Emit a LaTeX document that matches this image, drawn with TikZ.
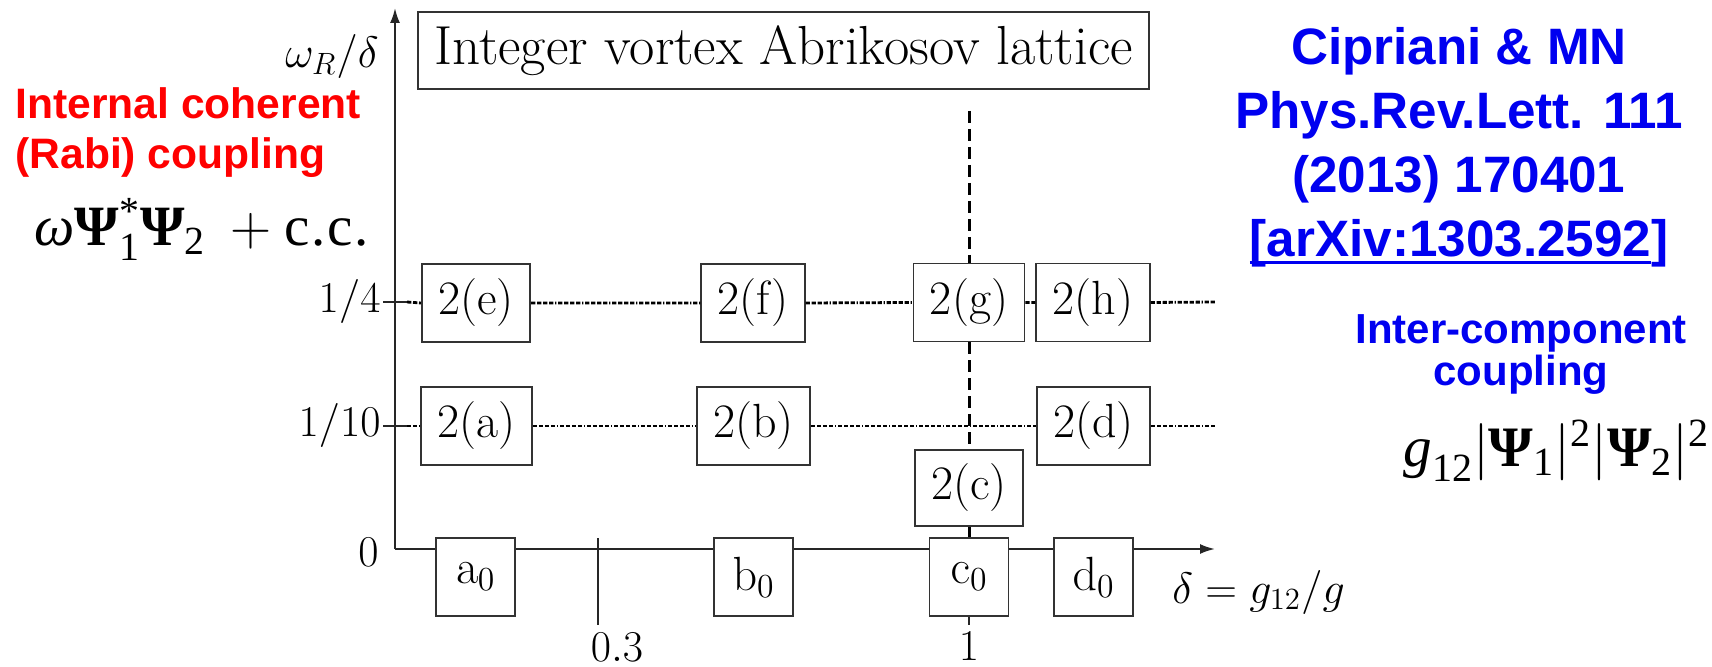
\RequirePackage{fix-cm}
\documentclass[tikz,border=0pt]{standalone}
\usepackage{amsmath,amssymb}
\usepackage[no-math]{fontspec}
\usepackage{xcolor}
\usepackage{tikz}
\usetikzlibrary{arrows.meta,positioning}
\newfontfamily\arialbold[BoldFont={Liberation Sans Bold}]{Liberation Sans}
\newfontfamily\timesfont{Liberation Serif}
\definecolor{rabired}{RGB}{255,0,0}
\definecolor{refblue}{RGB}{0,0,240}
\newcommand{\figfont}{\fontsize{22}{26}\selectfont}
\newcommand{\cellfont}{\fontsize{24}{28}\selectfont}
\newcommand{\linkline}[1]{\setbox0\hbox{#1}\rlap{\rule[-3.9pt]{\wd0}{1.5pt}}\box0}
% Times-like symbols of the coupling terms
\newcommand{\tPsi}{\text{\timesfont\bfseries Ψ}}
\newcommand{\tom}{\text{\timesfont\itshape ω}}
\newcommand{\tg}{\text{\timesfont\itshape g}}
\newcommand{\tnum}[1]{\text{\timesfont #1}}
\tikzset{
  cell/.style={rectangle, draw=black!80, line width=0.9pt, inner xsep=8.2pt, inner ysep=0pt,
               minimum height=39pt, font=\cellfont},
  base cell/.style={cell, minimum width=39.5pt},
  axis/.style={line width=1pt, black!85},
  guide/.style={line width=1.4pt, dash pattern=on 2.2pt off 0.8pt on 2.2pt off 0.8pt on 2.2pt off 0.8pt on 2.2pt off 0.8pt on 0.7pt off 0.8pt},
  vdash/.style={line width=1.5pt, dash pattern=on 6pt off 3pt},
  lbl/.style={inner sep=0pt, font=\figfont},
}

\begin{document}
\begin{tikzpicture}[x=0.5pt, y=-0.5pt]
        \useasboundingbox (0,0) rectangle (1712,667);

        % Title
        \node[draw=black!80, line width=0.9pt, minimum width=365.5pt, minimum height=38.5pt,
              font=\fontsize{27.5}{32}\selectfont] (title) at (783.5,50.5) {Integer vortex Abrikosov lattice};

        % Axes
        \coordinate (O)    at (395,549);
        \coordinate (ytop) at (395,8);
        \coordinate (xtip) at (1215,549);
        \draw[axis, -{Latex[length=7.5pt,width=5pt]}] (O) -- (ytop);
        \node[lbl, anchor=base east] (ylabel) at (379,68) {$\omega_R/\delta$};
        \node[lbl, anchor=base west] (xlabel) at (1172,603) {$\delta=g_{12}/g$};
        \node[lbl, anchor=east] (l0) at (379,552) {$0$};

        % Cells at 1/4
        \node[cell] (e) at (476,303) {2(e)};
        \node[cell] (f) at (753,303) {2(f)};
        \node[cell] (g) at (969,302.5) {2(g)};
        \node[cell] (h) at (1093,302.5) {2(h)};

        % Cells at 1/10
        \node[cell] (a) at (476.5,426) {2(a)};
        \node[cell] (b) at (753.5,426) {2(b)};
        \node[cell] (d) at (1093.5,426) {2(d)};
        \node[cell, minimum height=38pt] (c) at (969,488) {2(c)};

        % Cells on the axis
        \node[base cell] (a0) at (475.5,577) {$\mathrm{a}_0$};
        \node[base cell] (b0) at (753.5,577) {$\mathrm{b}_0$};
        \node[base cell] (c0) at (969,577) {$\mathrm{c}_0$};
        \node[base cell] (d0) at (1093.5,577) {$\mathrm{d}_0$};

        % Horizontal axis
        \draw[axis] (O) -- (O -| a0.west) (O -| a0.east) -- (O -| b0.west)
                    (O -| b0.east) -- (O -| c0.west) (O -| c0.east) -- (O -| d0.west);
        \draw[axis, -{Latex[length=7.5pt,width=5pt]}] (O -| d0.east) -- (xtip);

        % Ticks on the vertical axis
        \coordinate (q4l)  at (383,302);
        \coordinate (q4r)  at (407,302);
        \coordinate (q4e)  at (1216,302);
        \coordinate (q10l) at (383,426);
        \coordinate (q10r) at (407,426);
        \coordinate (q10e) at (1216,426);
        \draw[axis] (q4l) -- (q4r) (q10l) -- (q10r);
        \node[lbl, left=1pt] (l4)  at (q4l)  {$1/4$};
        \node[lbl, left=1pt] (l10) at (q10l) {$1/10$};

        % Guide lines
        \draw[guide] (q4r) -- (e.west) (e.east) -- (f.west) (f.east) -- (g.west)
                     (g.east) -- (h.west) (h.east) -- (q4e);
        \draw[guide] (q10r) -- (a.west) (a.east) -- (b.west) (b.east) -- (d.west) (d.east) -- (q10e);

        % delta = 1
        \coordinate (vtop) at (969,111);
        \draw[vdash] (vtop) -- (g.north) (g.south) -- (c.north) (c.south) -- (c0.north);

        % Ticks on the horizontal axis
        \coordinate (t3a) at (598,538);
        \coordinate (t3b) at (598,625);
        \coordinate (t1b) at (969,625);
        \draw[axis] (t3a) -- (t3b) (c0.south) -- (t1b);
        \node[lbl, below=4pt, xshift=9.5pt] (l3) at (t3b) {$0.3$};
        \node[lbl, below=3.5pt] (l1) at (t1b) {$1$};

        % Couplings
        \node[anchor=north west, align=left, inner sep=0pt, text=rabired,
              font=\arialbold\bfseries\fontsize{21.3}{25}\selectfont] (rabi) at (15,87)
              {Internal coherent\\(Rabi) coupling};
        \node[anchor=base west, inner sep=0pt, font=\fontsize{28.5}{32}\selectfont] (rabiterm) at (34,246)
              {$\tom\tPsi_{\tnum{1}}^{\tnum{*}}\tPsi_{\tnum{2}}\mskip4mu+\tnum{c\kern0.8pt.\kern0.8pt c\kern0.8pt.}$};
        \node[anchor=north, align=center, inner sep=0pt, text=refblue,
              font=\arialbold\bfseries\fontsize{21}{21}\selectfont] (inter) at (1521,314)
              {Inter-component\\coupling};
        \node[anchor=base west, inner sep=0pt, font=\fontsize{28.6}{32}\selectfont] (interterm) at (1403,467)
              {$\tg_{\tnum{12}}|\tPsi_{\tnum{1}}|^{\tnum{2}}|\tPsi_{\tnum{2}}|^{\tnum{2}}$};

        % Reference
        \node[anchor=north, align=center, inner sep=0pt, text=refblue,
              font=\arialbold\bfseries\fontsize{25.6}{32}\selectfont] (cite) at (1459,27)
              {Cipriani \& MN\\Phys.Rev.Lett. 111\\(2013) 170401\\\linkline{[arXiv:1303.2592}]};
\end{tikzpicture}
\end{document}
